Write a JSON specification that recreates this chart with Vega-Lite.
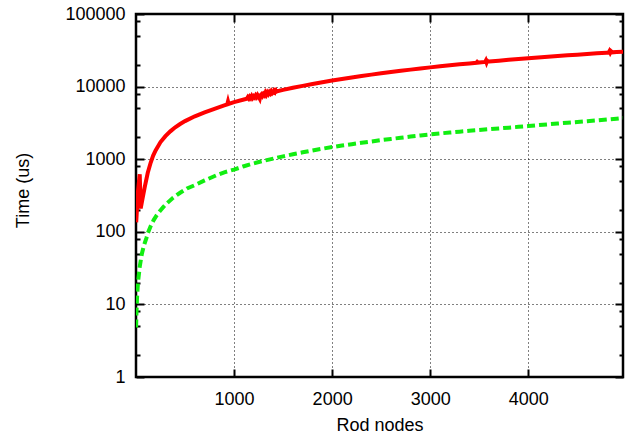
{
  "$schema": "https://vega.github.io/schema/vega-lite/v6.json",
  "width": 487,
  "height": 363,
  "autosize": "none",
  "padding": {"left": 136, "top": 14, "right": 8, "bottom": 60},
  "background": "white",
  "config": {
    "view": {"stroke": "black", "strokeWidth": 2.5},
    "font": "Liberation Sans"
  },
  "datasets": {
    "red": [
      {"x": 2, "y": 135}, {"x": 20, "y": 360}, {"x": 38, "y": 620}, {"x": 48, "y": 210}, {"x": 65, "y": 280},
      {"x": 90, "y": 420}, {"x": 120, "y": 650}, {"x": 150, "y": 900}, {"x": 175, "y": 1120}, {"x": 200, "y": 1320},
      {"x": 250, "y": 1720}, {"x": 300, "y": 2080}, {"x": 350, "y": 2420}, {"x": 400, "y": 2750}, {"x": 450, "y": 3050},
      {"x": 500, "y": 3350}, {"x": 600, "y": 3900}, {"x": 700, "y": 4420}, {"x": 800, "y": 4950}, {"x": 900, "y": 5500},
      {"x": 930, "y": 5680}, {"x": 938, "y": 6250}, {"x": 945, "y": 5760}, {"x": 1000, "y": 6100}, {"x": 1100, "y": 6650},
      {"x": 1130, "y": 6800}, {"x": 1140, "y": 7150}, {"x": 1150, "y": 6850}, {"x": 1160, "y": 7250}, {"x": 1170, "y": 6950},
      {"x": 1180, "y": 7400}, {"x": 1190, "y": 7000}, {"x": 1200, "y": 7350}, {"x": 1210, "y": 7100}, {"x": 1220, "y": 7550},
      {"x": 1230, "y": 7200}, {"x": 1240, "y": 7650}, {"x": 1250, "y": 7300}, {"x": 1262, "y": 6800}, {"x": 1270, "y": 7600},
      {"x": 1280, "y": 7850}, {"x": 1290, "y": 7450}, {"x": 1300, "y": 7900}, {"x": 1310, "y": 7600}, {"x": 1320, "y": 8250},
      {"x": 1330, "y": 7750}, {"x": 1340, "y": 8300}, {"x": 1350, "y": 7900}, {"x": 1360, "y": 8400}, {"x": 1370, "y": 8050},
      {"x": 1380, "y": 8600}, {"x": 1390, "y": 8150}, {"x": 1400, "y": 8450}, {"x": 1410, "y": 8300}, {"x": 1416, "y": 9600},
      {"x": 1422, "y": 8400}, {"x": 1440, "y": 8650}, {"x": 1460, "y": 8750}, {"x": 1500, "y": 9000},
      {"x": 1600, "y": 9620}, {"x": 1700, "y": 10240}, {"x": 1800, "y": 10860}, {"x": 1900, "y": 11480}, {"x": 2000, "y": 12100},
      {"x": 2100, "y": 12730}, {"x": 2200, "y": 13360}, {"x": 2300, "y": 13990}, {"x": 2400, "y": 14620}, {"x": 2500, "y": 15250},
      {"x": 2600, "y": 15880}, {"x": 2700, "y": 16510}, {"x": 2800, "y": 17140}, {"x": 2900, "y": 17770}, {"x": 3000, "y": 18400},
      {"x": 3100, "y": 19020}, {"x": 3200, "y": 19640}, {"x": 3300, "y": 20260}, {"x": 3400, "y": 20880}, {"x": 3470, "y": 21300},
      {"x": 3478, "y": 21900}, {"x": 3486, "y": 21350}, {"x": 3500, "y": 21500}, {"x": 3560, "y": 21870}, {"x": 3568, "y": 22900},
      {"x": 3575, "y": 21500}, {"x": 3582, "y": 22700}, {"x": 3592, "y": 22100}, {"x": 3600, "y": 22120}, {"x": 3700, "y": 22740},
      {"x": 3800, "y": 23360}, {"x": 3900, "y": 23980}, {"x": 4000, "y": 24600}, {"x": 4100, "y": 25190}, {"x": 4200, "y": 25780},
      {"x": 4300, "y": 26370}, {"x": 4400, "y": 26960}, {"x": 4500, "y": 27550}, {"x": 4600, "y": 28140}, {"x": 4700, "y": 28730},
      {"x": 4800, "y": 29320}, {"x": 4820, "y": 29440}, {"x": 4828, "y": 30800}, {"x": 4836, "y": 29200}, {"x": 4844, "y": 30600},
      {"x": 4855, "y": 29650}, {"x": 4900, "y": 29910}, {"x": 4966, "y": 30300}
    ],
    "green": [
      {"x": 1, "y": 4.8}, {"x": 5, "y": 8}, {"x": 10, "y": 12}, {"x": 20, "y": 20}, {"x": 38, "y": 33},
      {"x": 60, "y": 50}, {"x": 80, "y": 64}, {"x": 106, "y": 82}, {"x": 122, "y": 97}, {"x": 150, "y": 120},
      {"x": 180, "y": 145}, {"x": 210, "y": 168}, {"x": 242, "y": 192}, {"x": 280, "y": 220}, {"x": 320, "y": 250},
      {"x": 378, "y": 294}, {"x": 450, "y": 345}, {"x": 520, "y": 395}, {"x": 616, "y": 449}, {"x": 700, "y": 510},
      {"x": 820, "y": 600}, {"x": 900, "y": 660}, {"x": 1000, "y": 720}, {"x": 1100, "y": 800}, {"x": 1200, "y": 875},
      {"x": 1300, "y": 950}, {"x": 1400, "y": 1020}, {"x": 1500, "y": 1095}, {"x": 1600, "y": 1170}, {"x": 1700, "y": 1245},
      {"x": 1800, "y": 1320}, {"x": 1900, "y": 1395}, {"x": 2000, "y": 1470}, {"x": 2100, "y": 1540}, {"x": 2200, "y": 1610},
      {"x": 2300, "y": 1685}, {"x": 2400, "y": 1755}, {"x": 2500, "y": 1830}, {"x": 2600, "y": 1900}, {"x": 2700, "y": 1975},
      {"x": 2800, "y": 2050}, {"x": 2900, "y": 2125}, {"x": 3000, "y": 2200}, {"x": 3100, "y": 2265}, {"x": 3200, "y": 2330},
      {"x": 3300, "y": 2395}, {"x": 3400, "y": 2460}, {"x": 3500, "y": 2525}, {"x": 3600, "y": 2590}, {"x": 3700, "y": 2655},
      {"x": 3800, "y": 2720}, {"x": 3900, "y": 2790}, {"x": 4000, "y": 2860}, {"x": 4100, "y": 2940}, {"x": 4200, "y": 3020},
      {"x": 4300, "y": 3100}, {"x": 4400, "y": 3180}, {"x": 4500, "y": 3260}, {"x": 4600, "y": 3340}, {"x": 4700, "y": 3420},
      {"x": 4800, "y": 3520}, {"x": 4900, "y": 3620}, {"x": 4966, "y": 3700}
    ]
  },
  "layer": [
    {
      "data": {"name": "red"},
      "mark": {"type": "line", "color": "#ff0000", "strokeWidth": 4, "clip": true},
      "encoding": {
        "x": {
          "field": "x", "type": "quantitative",
          "scale": {"domain": [0, 4966], "nice": false, "zero": false},
          "axis": {
            "orient": "bottom",
            "values": [1000, 2000, 3000, 4000],
            "domain": false,
            "tickSize": -8, "tickWidth": 2, "tickColor": "black",
            "grid": true, "gridDash": [1, 3], "gridColor": "black", "gridWidth": 1,
            "labelFont": "Liberation Sans", "labelFontSize": 18, "labelColor": "black",
            "labelBaseline": "alphabetic", "labelPadding": 35, "labelOverlap": false, "labelFlush": false,
            "format": "d",
            "title": "Rod nodes", "titleFont": "Liberation Sans", "titleFontSize": 18, "titleFontWeight": "normal",
            "titleColor": "black", "titleBaseline": "alphabetic", "titleAlign": "center", "titleX": 243.5, "titleY": 53
          }
        },
        "y": {
          "field": "y", "type": "quantitative",
          "scale": {"type": "log", "domain": [1, 100000], "nice": false},
          "axis": {
            "orient": "left",
            "values": [1, 2, 5, 8, 10, 20, 50, 80, 100, 200, 500, 800, 1000, 2000, 5000, 8000, 10000, 20000, 50000, 80000, 100000],
            "domain": false,
            "tickSize": {"condition": {"test": "indexof([1,10,100,1000,10000,100000], datum.value) >= 0", "value": -8}, "value": -4},
            "tickWidth": 2, "tickColor": "black",
            "grid": true, "gridDash": [1, 3], "gridColor": "black", "gridWidth": 1,
            "gridOpacity": {"condition": {"test": "indexof([1,10,100,1000,10000,100000], datum.value) >= 0", "value": 1}, "value": 0},
            "labelExpr": "indexof([1,10,100,1000,10000,100000], datum.value) >= 0 ? '' + datum.value : ''",
            "labelFont": "Liberation Sans", "labelFontSize": 18, "labelColor": "black",
            "labelPadding": 19, "labelOverlap": false, "labelFlush": false, "labelBound": false,
            "title": "Time (us)", "titleFont": "Liberation Sans", "titleFontSize": 18, "titleFontWeight": "normal",
            "titleColor": "black", "titleAngle": -90, "titleAlign": "center", "titleBaseline": "middle",
            "titleX": -113, "titleY": 176
          }
        }
      }
    },
    {
      "data": {"name": "green"},
      "mark": {"type": "line", "color": "#11ee11", "strokeWidth": 4, "strokeDash": [8, 4], "clip": true},
      "encoding": {
        "x": {
          "field": "x", "type": "quantitative",
          "axis": {
            "orient": "top", "values": [1000, 2000, 3000, 4000], "domain": false,
            "tickSize": -8, "tickWidth": 2, "tickColor": "black",
            "labels": false, "grid": false, "title": null
          }
        },
        "y": {
          "field": "y", "type": "quantitative",
          "axis": {
            "orient": "right",
            "values": [1, 2, 5, 8, 10, 20, 50, 80, 100, 200, 500, 800, 1000, 2000, 5000, 8000, 10000, 20000, 50000, 80000, 100000],
            "domain": false,
            "tickSize": {"condition": {"test": "indexof([1,10,100,1000,10000,100000], datum.value) >= 0", "value": -8}, "value": -4},
            "tickWidth": 2, "tickColor": "black",
            "labels": false, "grid": false, "title": null
          }
        }
      }
    }
  ],
  "resolve": {"axis": {"x": "independent", "y": "independent"}}
}
